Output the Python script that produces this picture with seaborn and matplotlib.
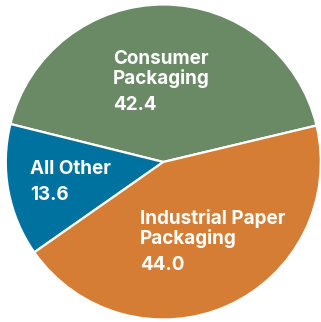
import matplotlib
matplotlib.use("Agg")
import matplotlib.pyplot as plt
import seaborn as sns

segments = ["Consumer Packaging", "All Other", "Industrial Paper Packaging"]
values = [42.4, 13.6, 44.0]
label_lines = [["Consumer", "Packaging"], ["All Other"], ["Industrial Paper", "Packaging"]]
colors = ["#6a8a65", "#0072a0", "#d57d34"]

sns.set_style("white")
plt.rcParams['font.family'] = ['Inter', 'DejaVu Sans']

W, H = 321, 322
fig = plt.figure(figsize=(W / 100, H / 100), dpi=100)
cx, cy, r = 163.3, 162, 157.5
ax = fig.add_axes([(cx - r) / W, (H - cy - r) / H, 2 * r / W, 2 * r / H])

ax.pie(values, colors=colors, startangle=13.4, counterclock=True,
       wedgeprops=dict(edgecolor="white", linewidth=1.6))
ax.set_xlim(-1, 1)
ax.set_ylim(-1, 1)
ax.set_aspect("auto")
ax.axis("off")

def px(x, y):
    return x / W, 1 - y / H

# left edge and first-line baseline (pixels) for each block
anchors = [(113, 64), (30, 174), (140, 224)]
for lines, val, (x, y) in zip(label_lines, values, anchors):
    for i, line in enumerate(lines):
        fig.text(*px(x, y + 20 * i), line, color="white", fontsize=13.6,
                 fontweight="bold", ha="left", va="baseline")
    fig.text(*px(x, y + 20 * (len(lines) - 1) + 26), f"{val:.1f}", color="white",
             fontsize=13.6, fontweight="bold", ha="left", va="baseline")

plt.savefig("out.png", dpi=100)
